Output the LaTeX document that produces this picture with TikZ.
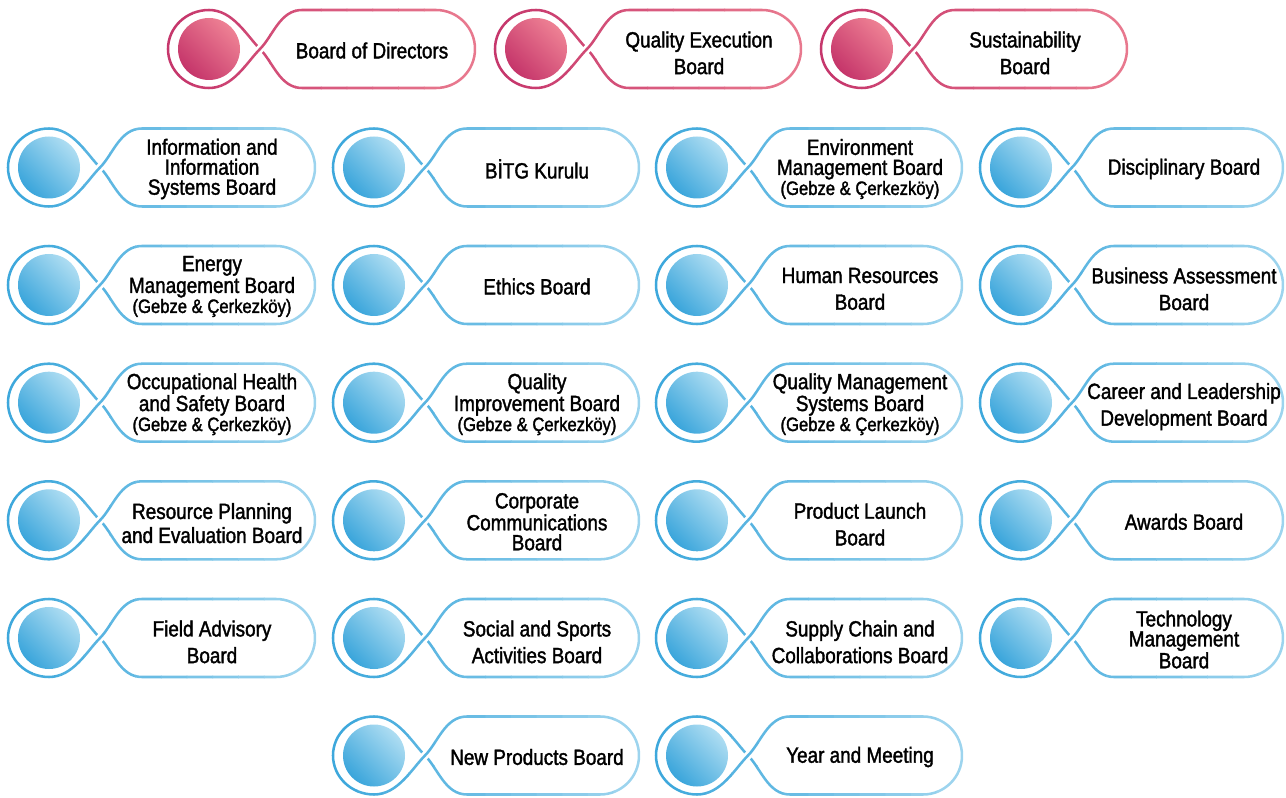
\documentclass[tikz,border=0pt]{standalone}
\usepackage{fontspec}
\setmainfont{Liberation Sans}[FakeStretch=0.86,FakeBold=1.6]
\definecolor{bL}{HTML}{3AA6DB}
\definecolor{bR}{HTML}{A2D6EF}
\definecolor{bD}{HTML}{3AA5DB}
\definecolor{bU}{HTML}{AEDDF2}
\definecolor{pL}{HTML}{C5346A}
\definecolor{pR}{HTML}{EA7C90}
\definecolor{pD}{HTML}{C5356A}
\definecolor{pU}{HTML}{EE8194}
\tikzset{
  ringline/.style={line width=1.9pt, line join=round},
  boardtext/.style={align=center, inner sep=0pt, text=black, font=\fontsize{16.5pt}{20pt}\selectfont},
  tight/.style={font=\fontsize{16.5pt}{15pt}\selectfont},
  mid/.style={font=\fontsize{16.5pt}{18pt}\selectfont, yshift=-1pt},
  two/.style={yshift=-1.8pt}
}
\newcommand\gebze{{\fontsize{14.5pt}{15pt}\selectfont (Gebze \& Çerkezköy)}}
\newcommand\boardoutline[1]{(93,0) .. controls (80,13) and (66,39) .. (42,39) arc[start angle=90,end angle=270,x radius=30.75pt,y radius=29.25pt] .. controls (66,-39) and (80,-13) .. (93,0) .. controls (106,13) and (113,39) .. (135,39) -- (#1-40,39) arc[start angle=90,end angle=-90,radius=29.25pt] -- (135,-39) .. controls (113,-39) and (106,-13) .. (93,0)}
\newcommand\boardover{(42,-39) .. controls (66,-39) and (80,-13) .. (93,0) .. controls (106,13) and (113,39) .. (135,39)}
\newcommand\board[7]{%
 \begin{scope}[shift={(#2,#3)}]
  \foreach \i in {0,...,11}{
    \pgfmathsetmacro\xa{#4*\i/12-0.7}
    \pgfmathsetmacro\xb{#4*(\i+1)/12+0.01}
    \pgfmathtruncatemacro\p{100*(\i+0.5)/12}
    \begin{scope}
      \clip (\xa,-46) rectangle (\xb,46);
      \draw[ringline, draw=#5R!\p!#5L] \boardoutline{#4};
    \end{scope}
  }
  \begin{scope}
    \clip (80,-13) rectangle (106,13);
    \draw[line width=6pt, white] \boardover;
    \draw[ringline, draw=#5R!30!#5L] \boardover;
  \end{scope}
  \shade[top color=#5U, bottom color=#5D, shading angle=-45] (42,0) circle[radius=23.25pt];
  \node[boardtext,#6] (#1) at (205,-1.5) {#7};
 \end{scope}}
\begin{document}
\begin{tikzpicture}[x=0.75pt,y=0.75pt]
\useasboundingbox (0,0) rectangle (1286,797);
% top row
\board{bod}{167}{748}{309}{p}{}{Board of Directors}
\board{qeb}{494}{748}{308}{p}{two}{Quality Execution\\Board}
\board{sus}{820}{748}{308}{p}{two}{Sustainability\\Board}
% row 1
\board{iisb}{7}{629.5}{309}{b}{tight}{Information and\\Information\\Systems Board}
\board{bitg}{332}{629.5}{308}{b}{}{BİTG Kurulu}
\board{emb}{655}{629.5}{308}{b}{tight}{Environment\\Management Board\\\gebze}
\board{disc}{979}{629.5}{305}{b}{}{Disciplinary Board}
% row 2
\board{enmb}{7}{512}{309}{b}{tight}{Energy\\Management Board\\\gebze}
\board{eth}{332}{512}{308}{b}{}{Ethics Board}
\board{hr}{655}{512}{308}{b}{two}{Human Resources\\Board}
\board{bab}{979}{512}{305}{b}{two}{Business Assessment\\Board}
% row 3
\board{ohs}{7}{394.3}{309}{b}{tight}{Occupational Health\\and Safety Board\\\gebze}
\board{qib}{332}{394.3}{308}{b}{tight}{Quality\\Improvement Board\\\gebze}
\board{qms}{655}{394.3}{308}{b}{tight}{Quality Management\\Systems Board\\\gebze}
\board{cld}{979}{394.3}{305}{b}{two}{Career and Leadership\\Development Board}
% row 4
\board{rpe}{7}{276.7}{309}{b}{mid}{Resource Planning\\and Evaluation Board}
\board{cc}{332}{276.7}{308}{b}{tight}{Corporate\\Communications\\Board}
\board{pl}{655}{276.7}{308}{b}{two}{Product Launch\\Board}
\board{aw}{979}{276.7}{305}{b}{}{Awards Board}
% row 5
\board{fa}{7}{159}{309}{b}{two}{Field Advisory\\Board}
\board{ssa}{332}{159}{308}{b}{two}{Social and Sports\\Activities Board}
\board{scc}{655}{159}{308}{b}{two}{Supply Chain and\\Collaborations Board}
\board{tm}{979}{159}{305}{b}{tight}{Technology\\Management\\Board}
% row 6
\board{np}{332}{41.5}{308}{b}{}{New Products Board}
\board{ym}{655}{41.5}{308}{b}{}{Year and Meeting}
\end{tikzpicture}
\end{document}
